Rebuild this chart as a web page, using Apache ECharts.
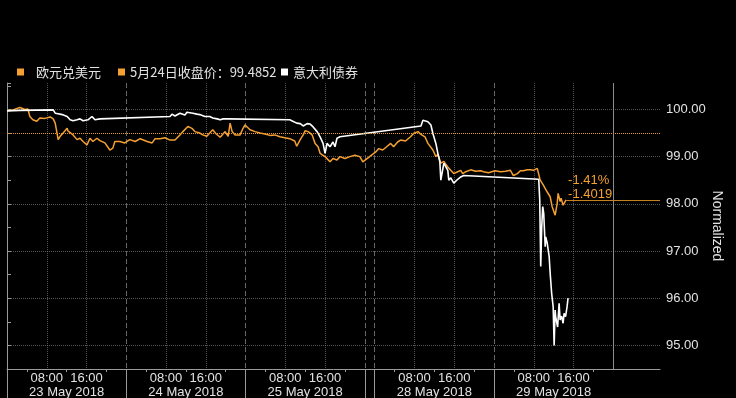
<!DOCTYPE html>
<html><head><meta charset="utf-8">
<script src="https://cdn.jsdelivr.net/npm/echarts@6/dist/echarts.min.js"></script>
<style>html,body{margin:0;padding:0;background:#000;}#c{width:736px;height:398px;}</style>
</head><body><div id="c"></div>
<script>
// ---- data (x in trading hours from 23 May 00:00; weekend compressed) ----
const eurName = '欧元兑美元';
const btpName = '意大利债券';
const closeText = '5月24日收盘价：';
const closePrice = 99.4852;
const dayLabels = ['23 May 2018', '24 May 2018', '25 May 2018', '28 May 2018', '29 May 2018'];
const dayStarts = [0, 24, 48, 74, 98];
const weekendBreak = 72;
const nowHour = 122;
const xMax = 131.4;
const labelHours = [8, 16];
const minorHours = [4, 12, 20];
const yMin = 94.5, yMax = 100.56;
const yGridValues = [95, 96, 97, 98, 99, 100];

const eurHours = [
0,1.2,2.6,3.6,4.2,4.6,5.2,6.0,6.6,7.6,
8.7,9.3,9.7,10.1,10.3,10.7,11.1,11.3,12.1,12.3,
12.7,13.3,14.1,14.7,15.3,16.1,16.7,17.3,18.1,18.7,
19.7,20.7,21.3,21.7,22.7,23.7,24.7,25.8,26.8,28.2,
29.2,29.8,30.8,31.8,32.8,33.2,33.8,34.8,35.4,35.8,
36.4,37.2,37.8,38.8,39.4,40.2,40.8,41.4,42.1,42.9,
43.9,44.5,44.9,45.3,45.9,46.9,47.5,47.9,48.9,49.9,
50.9,51.9,52.9,53.9,54.9,55.9,56.9,57.9,58.3,59.0,
59.6,60.0,60.6,61.4,62.0,62.6,63.0,63.4,64.0,64.4,
65.0,65.6,66.4,67.0,68.0,69.0,70.0,71.0,71.6,74.2,
74.8,75.6,76.4,77.2,77.8,78.6,79.2,80.2,81.2,81.8,
82.7,83.3,84.1,84.7,85.7,86.3,86.7,87.3,87.9,88.7,
89.3,89.9,90.7,91.3,91.7,92.3,92.7,93.3,94.3,95.3,
95.9,96.9,97.3,98.2,99.3,100.3,101.3,101.9,102.7,103.3,
103.9,104.7,105.3,105.9,106.7,107.1,107.3,107.9,108.7,109.3,
109.7,110.3,110.7,110.9,111.3,111.5,111.9,112.5];
const eurValues = [
99.97,99.99,100.04,100.00,100.01,99.85,99.78,99.75,99.82,99.81,
99.84,99.80,99.71,99.74,99.36,99.43,99.40,99.50,99.60,99.54,
99.57,99.46,99.36,99.39,99.32,99.25,99.39,99.32,99.39,99.34,
99.29,99.14,99.18,99.32,99.32,99.29,99.36,99.32,99.38,99.32,
99.29,99.38,99.38,99.40,99.35,99.32,99.35,99.46,99.53,99.57,
99.64,99.60,99.53,99.50,99.46,99.43,99.50,99.57,99.48,99.41,
99.53,99.43,99.71,99.53,99.46,99.46,99.60,99.67,99.57,99.53,
99.50,99.48,99.45,99.46,99.42,99.40,99.38,99.33,99.22,99.36,
99.46,99.55,99.53,99.46,99.28,99.21,99.07,99.10,99.00,98.96,
98.89,98.96,98.93,99.00,98.96,99.00,99.03,99.00,98.89,99.10,
99.17,99.14,99.21,99.28,99.21,99.31,99.35,99.33,99.42,99.49,
99.53,99.47,99.42,99.28,99.14,99.00,99.05,98.86,98.90,98.78,
98.71,98.64,98.68,98.71,98.64,98.68,98.71,98.72,98.69,98.70,
98.68,98.66,98.66,98.70,98.68,98.69,98.71,98.60,98.64,98.70,
98.70,98.72,98.72,98.71,98.75,98.77,98.50,98.40,98.25,98.15,
97.94,97.76,98.00,98.22,98.05,98.12,97.97,98.0833];

const btpHours = [
0,2.6,9.3,9.7,10.3,11.1,12.1,12.7,13.3,14.1,
14.7,15.3,16.3,17.1,17.7,18.7,32.8,33.2,33.8,34.8,
35.8,36.2,37.4,38.2,38.8,39.8,40.2,40.8,41.4,42.3,
42.9,43.5,44.3,56.9,57.5,58.3,59.0,59.6,60.0,60.4,
61.0,61.6,62.4,63.0,63.6,64.0,64.4,65.0,65.6,66.0,
66.4,67.0,83.3,83.7,84.1,84.7,85.3,85.7,86.3,86.7,
87.1,87.3,87.9,88.7,88.9,89.3,89.9,90.7,91.3,91.9,
107.0,107.2,107.4,107.6,107.8,108.0,108.3,108.4,108.7,109.1,
109.3,109.6,109.9,110.1,110.3,110.4,110.6,110.8,111.1,111.3,
111.6,111.9,112.1,112.4,112.7,112.9];
const btpValues = [
99.97,99.98,99.99,99.92,99.91,99.89,99.85,99.78,99.76,99.78,
99.80,99.76,99.78,99.85,99.78,99.80,99.85,99.90,99.86,99.92,
99.88,99.94,99.92,99.90,99.89,99.85,99.88,99.85,99.82,99.80,
99.78,99.80,99.80,99.78,99.75,99.71,99.70,99.65,99.62,99.70,
99.69,99.63,99.53,99.42,99.28,99.07,99.28,99.21,99.31,99.21,
99.39,99.42,99.65,99.77,99.81,99.74,99.67,99.49,99.28,99.07,
98.89,98.50,98.86,98.71,98.50,98.55,98.44,98.52,98.57,98.60,
98.52,98.08,96.67,97.51,97.94,97.80,97.09,97.30,97.17,96.88,
96.53,96.10,95.82,95.00,95.75,95.61,95.65,95.39,95.89,95.54,
95.62,95.47,95.68,95.61,95.82,96.00];

// ---- build ----
const ORANGE = '#f4a033';
const TXT = '#e2e2e2';
const AXIS = '#9a9a9a';
const GRID = '#8a8a8a';
const FONT = "'Liberation Sans', 'Noto Sans CJK SC', sans-serif";
const CJK = "'Noto Sans CJK SC', sans-serif";

const zip = (h, v) => h.map((x, i) => [x, v[i]]);
const eurData = zip(eurHours, eurValues);
const btpData = zip(btpHours, btpValues);
const last = eurData[eurData.length - 1];
const pctText = (((last[1] / closePrice) - 1) * 100).toFixed(2) + '%';
const diffText = (last[1] - closePrice).toFixed(4);
const closeName = closeText + closePrice;

const minorTickVals = [], hourLabelVals = [], middayVals = [];
dayStarts.forEach(d => {
  minorHours.forEach(h => minorTickVals.push(d + h));
  labelHours.forEach(h => hourLabelVals.push(d + h));
  middayVals.push(d + 12);
});
const sepVals = dayStarts.concat([weekendBreak]).sort((a, b) => a - b);
const pad = n => (n < 10 ? '0' : '') + n;
function dayIndexOf(v) { let k = 0; dayStarts.forEach((d, i) => { if (v >= d) k = i; }); return k; }

const baseX = { type: 'value', min: 0, max: xMax, position: 'bottom', gridIndex: 0 };

const legendBase = { top: 65, padding: 0, itemWidth: 7, itemHeight: 7, icon: 'rect', selectedMode: false,
  textStyle: { color: TXT, fontSize: 13, fontFamily: CJK, lineHeight: 14 } };

const option = {
  backgroundColor: '#000',
  animation: false,
  grid: { left: 7, right: 76, top: 83, bottom: 29, outerBoundsMode: 'none' },
  legend: [
    Object.assign({}, legendBase, { left: 17, data: [eurName], textStyle: Object.assign({}, legendBase.textStyle, { padding: [0, 0, 0, 7] }) }),
    Object.assign({}, legendBase, { left: 118, data: [closeName] }),
    Object.assign({}, legendBase, { left: 281, data: [btpName] })
  ],
  xAxis: [
    Object.assign({}, baseX, {
      axisLine: { show: true, lineStyle: { color: AXIS, width: 1 } },
      axisTick: { show: true, length: 3, customValues: minorTickVals, lineStyle: { color: AXIS } },
      axisLabel: { show: false },
      splitLine: { show: false }
    }),
    Object.assign({}, baseX, {
      axisLine: { show: false },
      axisTick: { show: false, customValues: hourLabelVals },
      splitLine: { show: true, lineStyle: { color: GRID, type: 'dotted', width: 1, opacity: 0.6 } },
      axisLabel: { show: true, customValues: hourLabelVals, margin: 3, color: TXT, fontSize: 13, fontFamily: FONT,
        formatter: v => pad(Math.round(v - dayStarts[dayIndexOf(v)])) + ':00' }
    }),
    Object.assign({}, baseX, {
      axisLine: { show: false },
      axisTick: { show: true, inside: false, length: 29, customValues: sepVals, lineStyle: { color: AXIS } },
      splitLine: { show: true, lineStyle: { color: '#666666', type: [5, 3], width: 1 } },
      axisLabel: { show: true, customValues: middayVals, margin: 17, color: TXT, fontSize: 13, fontFamily: FONT,
        formatter: v => dayLabels[dayIndexOf(v)] }
    })
  ],
  yAxis: [
    {
      type: 'value', position: 'right', min: yMin, max: yMax, interval: 0.5,
      name: 'Normalized', nameLocation: 'middle', nameRotate: -90, nameGap: 50, nameMoveOverlap: false,
      nameTextStyle: { color: TXT, fontSize: 14, fontFamily: FONT },
      axisLine: { show: true, lineStyle: { color: AXIS } },
      axisTick: { show: true, length: 4, lineStyle: { color: AXIS } },
      axisLabel: { color: TXT, fontSize: 13, fontFamily: FONT, margin: 6,
        formatter: v => (Math.abs(v - Math.round(v)) < 1e-6 ? v.toFixed(2) : '') },
      splitLine: { show: false }
    },
    {
      type: 'value', position: 'right', min: yMin, max: yMax,
      axisLine: { show: false },
      axisTick: { show: false, customValues: yGridValues },
      axisLabel: { show: false },
      splitLine: { show: true, lineStyle: { color: GRID, type: 'dotted', width: 1, opacity: 0.6 } }
    }
  ],
  series: [
    {
      name: eurName, type: 'line', data: eurData, showSymbol: false, symbol: 'none',
      lineStyle: { color: ORANGE, width: 1.5 }, itemStyle: { color: ORANGE },
      endLabel: { show: true, formatter: () => pctText + '\n' + diffText, color: ORANGE, fontSize: 13,
        fontFamily: FONT, lineHeight: 14, offset: [-6, -12] },
      markLine: { silent: true, symbol: 'none', label: { show: false },
        lineStyle: { color: '#c98120', type: 'solid', width: 1 },
        data: [[{ coord: last }, { coord: [xMax, last[1]] }]] }
    },
    {
      name: closeName, type: 'line', data: [], itemStyle: { color: ORANGE },
      markLine: { silent: true, symbol: 'none', label: { show: false },
        lineStyle: { color: '#f09a2a', type: 'dotted', width: 1 },
        data: [{ yAxis: closePrice }] }
    },
    {
      name: btpName, type: 'line', data: btpData, showSymbol: false, symbol: 'none',
      lineStyle: { color: '#ffffff', width: 1.6 }, itemStyle: { color: '#ffffff' },
      markLine: { silent: true, symbol: 'none', label: { show: false },
        lineStyle: { color: '#8c8c8c', type: 'solid', width: 1 },
        data: [{ xAxis: nowHour }] }
    }
  ]
};
const chart = echarts.init(document.getElementById('c'));
chart.setOption(option);
</script>
</body></html>
